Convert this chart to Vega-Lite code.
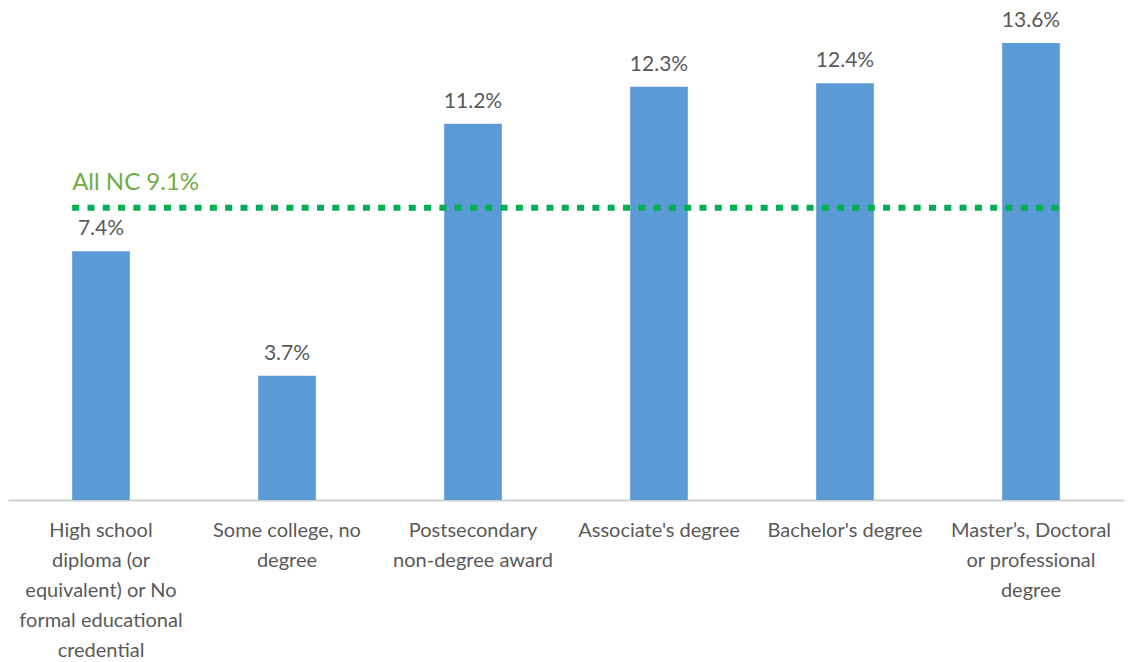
{
  "$schema": "https://vega.github.io/schema/vega-lite/v6.json",
  "width": 1116,
  "height": 500,
  "padding": {"left": 8, "top": 0, "right": 4, "bottom": 162},
  "autosize": {"type": "none"},
  "config": {
    "view": {"stroke": null},
    "font": "Lato"
  },
  "datasets": {
    "bars": [
      {"category": "High school diploma (or equivalent) or No formal educational credential", "rate": 7.4},
      {"category": "Some college, no degree", "rate": 3.7},
      {"category": "Postsecondary non-degree award", "rate": 11.2},
      {"category": "Associate's degree", "rate": 12.3},
      {"category": "Bachelor's degree", "rate": 12.4},
      {"category": "Master’s, Doctoral or professional degree", "rate": 13.6}
    ],
    "allnc": [
      {"from": "High school diploma (or equivalent) or No formal educational credential", "to": "Master’s, Doctoral or professional degree", "rate": 8.7, "label": "All NC 9.1%"}
    ]
  },
  "encoding": {
    "x": {
      "field": "category",
      "type": "nominal",
      "sort": null,
      "scale": {"paddingInner": 0.69, "paddingOuter": 0.345},
      "axis": {
        "title": null,
        "labelAngle": 0,
        "labelFontSize": 20,
        "labelColor": "#595959",
        "labelLineHeight": 30,
        "labelPadding": 20,
        "labelLimit": 0,
        "ticks": false,
        "domainColor": "#d0d0d0",
        "domainWidth": 2,
        "labelExpr": "{'High school diploma (or equivalent) or No formal educational credential': ['High school', 'diploma (or', 'equivalent) or No', 'formal educational', 'credential'], 'Some college, no degree': ['Some college, no', 'degree'], 'Postsecondary non-degree award': ['Postsecondary', 'non-degree award'], 'Master’s, Doctoral or professional degree': ['Master’s, Doctoral', 'or professional', 'degree']}[datum.label] || datum.label"
      }
    },
    "y": {
      "field": "rate",
      "type": "quantitative",
      "scale": {"domain": [0, 14.88], "nice": false},
      "axis": null
    }
  },
  "layer": [
    {
      "data": {"name": "bars"},
      "mark": {"type": "bar", "color": "#5b9bd5", "width": {"band": 1}},
      "encoding": {}
    },
    {
      "data": {"name": "bars"},
      "transform": [{"calculate": "format(datum.rate, '.1f') + '%'", "as": "rate_label"}],
      "mark": {"type": "text", "fontSize": 21, "color": "#595959", "baseline": "alphabetic", "dy": -16},
      "encoding": {
        "text": {"field": "rate_label"}
      }
    },
    {
      "data": {"name": "allnc"},
      "mark": {"type": "rule", "color": "#00b050", "strokeWidth": 6, "strokeDash": [7, 8.3]},
      "encoding": {
        "x": {"field": "from", "type": "nominal", "sort": null, "bandPosition": 0},
        "x2": {"field": "to", "bandPosition": 1},
        "y": {"field": "rate", "type": "quantitative"}
      }
    },
    {
      "data": {"name": "allnc"},
      "mark": {"type": "text", "fontSize": 24, "color": "#70ad47", "align": "left", "baseline": "alphabetic", "dy": -18},
      "encoding": {
        "x": {"field": "from", "type": "nominal", "sort": null, "bandPosition": 0},
        "y": {"field": "rate", "type": "quantitative"},
        "text": {"field": "label"}
      }
    }
  ]
}
